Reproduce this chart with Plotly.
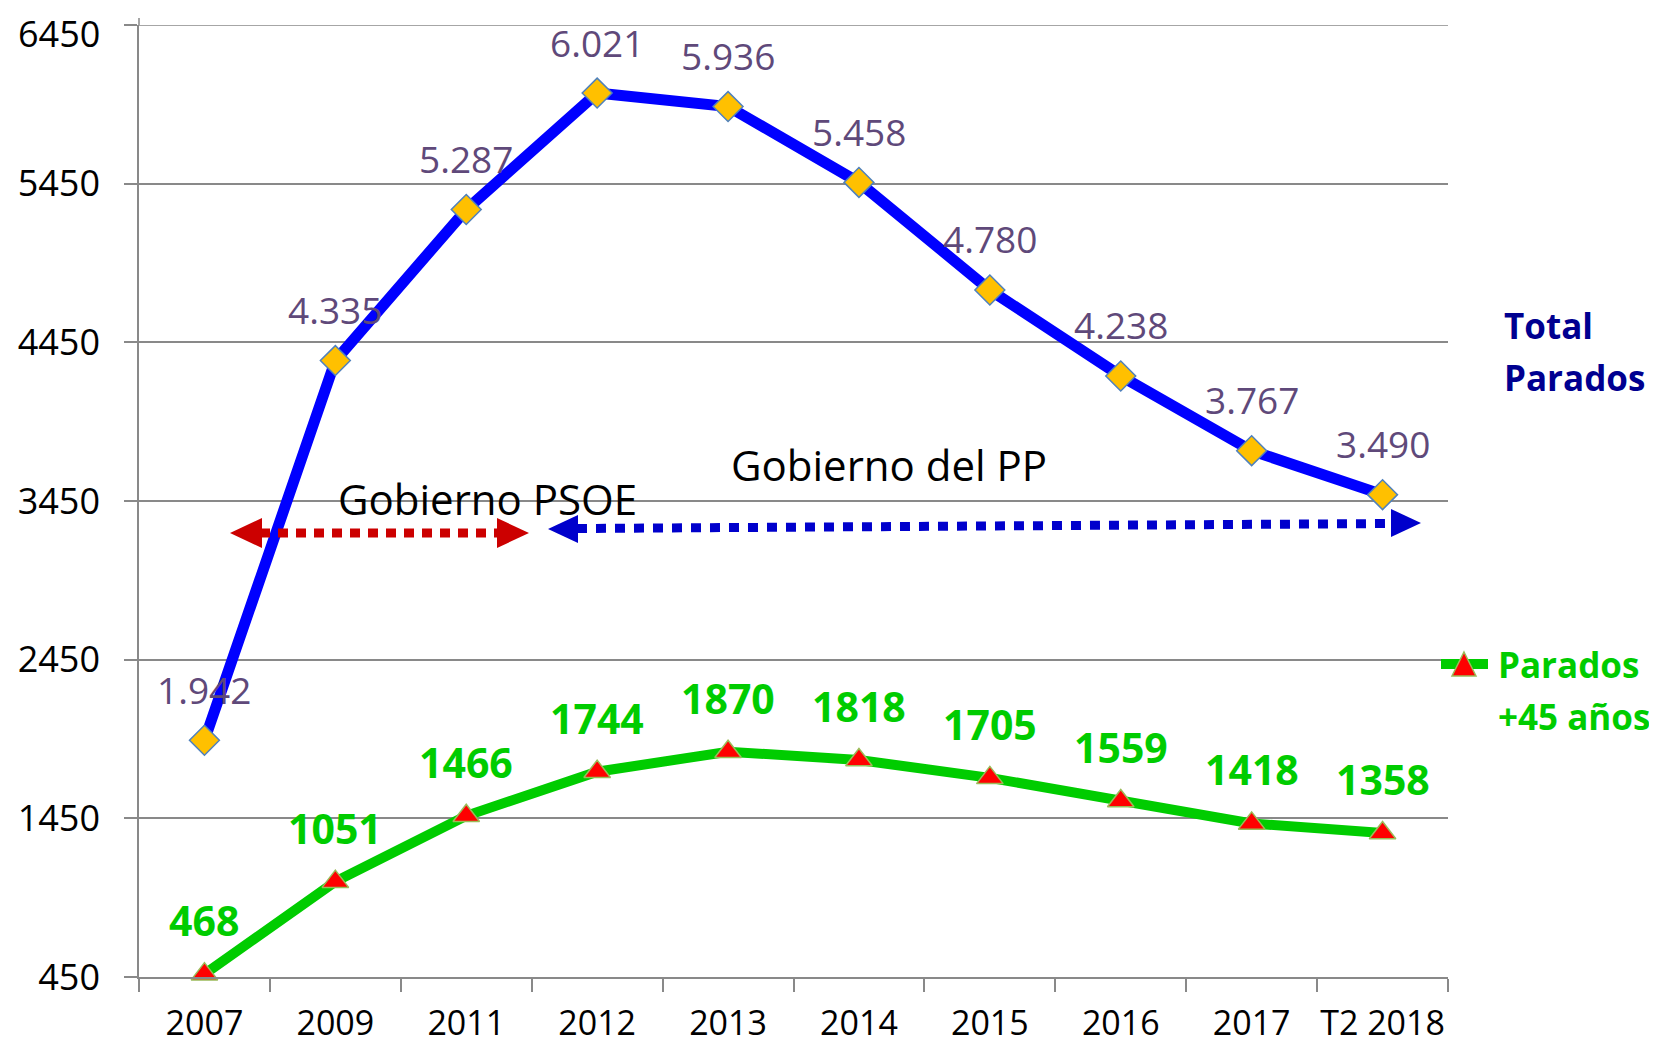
import plotly.graph_objects as go

# ---- data ----
categories = ["2007", "2009", "2011", "2012", "2013", "2014", "2015", "2016", "2017", "T2 2018"]
total_parados = [1942, 4335, 5287, 6021, 5936, 5458, 4780, 4238, 3767, 3490]
parados_45 = [468, 1051, 1466, 1744, 1870, 1818, 1705, 1559, 1418, 1358]
y_ticks = [450, 1450, 2450, 3450, 4450, 5450, 6450]

OFF = 8  # page body margin
W, H = 1657 - OFF, 1050 - OFF
# plot area in screen pixel coordinates
L, R, T, B = 139, 1448, 25, 977
FONT = "Open Sans"
GRID = "#898989"


def px(x):
    return (x - L) / (R - L)


def py(y):
    return 1 - (y - T) / (B - T)


fig = go.Figure()

fig.add_trace(go.Scatter(
    x=categories, y=total_parados, mode="lines+markers", name="Total Parados",
    line=dict(color="#0000FF", width=11),
    marker=dict(symbol="diamond", size=23, color="#FFC000",
                line=dict(color="#4F81BD", width=1.5)),
    showlegend=False, cliponaxis=False,
))
fig.add_trace(go.Scatter(
    x=categories, y=parados_45, mode="lines+markers", name="Parados +45 años",
    line=dict(color="#00CC00", width=10),
    marker=dict(symbol="triangle-up", size=23, color="#FF0000",
                line=dict(color="#9BBB59", width=1.5)),
    showlegend=False, cliponaxis=False,
))

annotations = []
for i, v in enumerate(total_parados):
    annotations.append(dict(
        x=i, y=v, xref="x", yref="y", text=f"{v:,}".replace(",", "."),
        showarrow=False, yshift=51, xanchor="center", yanchor="middle",
        font=dict(family=FONT, size=37, color="#5F497A")))
for i, v in enumerate(parados_45):
    annotations.append(dict(
        x=i, y=v, xref="x", yref="y", text=f"<b>{v}</b>",
        showarrow=False, yshift=54, xanchor="center", yanchor="middle",
        font=dict(family=FONT, size=41, color="#00CC00")))

# top y tick label kept inside the page
annotations.append(dict(x=px(101), y=py(OFF), xref="paper", yref="paper",
                        text=str(y_ticks[-1]), showarrow=False,
                        xanchor="right", yanchor="top", borderpad=0,
                        font=dict(family=FONT, size=36, color="#000000")))

# period labels
annotations.append(dict(x=px(889), y=py(464), xref="paper", yref="paper",
                        text="Gobierno del PP", showarrow=False,
                        xanchor="center", yanchor="middle",
                        font=dict(family=FONT, size=42, color="#000000")))
annotations.append(dict(x=px(487), y=py(498), xref="paper", yref="paper",
                        text="Gobierno PSOE", showarrow=False,
                        xanchor="center", yanchor="middle",
                        font=dict(family=FONT, size=42, color="#000000")))

# legend-like labels
for txt, yy, col, xx in [("Total", 325, "#000090", 1502), ("Parados", 377, "#000090", 1502),
                         ("Parados", 664, "#00CC00", 1496), ("+45 años", 716, "#00CC00", 1496)]:
    annotations.append(dict(x=px(xx), y=py(yy), xref="paper", yref="paper",
                            text=f"<b>{txt}</b>", showarrow=False,
                            xanchor="left", yanchor="middle", align="left",
                            font=dict(family=FONT, size=35, color=col)))

shapes = []
# top gridline (plotly drops gridlines at the range ends) and axis line stub
shapes.append(dict(type="line", xref="paper", yref="y", x0=0, x1=1,
                   y0=y_ticks[-1], y1=y_ticks[-1], line=dict(color=GRID, width=1.5),
                   layer="below"))
shapes.append(dict(type="line", xref="paper", yref="paper", x0=0, x1=0,
                   y0=1, y1=py(18), line=dict(color=GRID, width=1.5)))
# red dotted double arrow
shapes.append(dict(type="line", xref="paper", yref="paper",
                   x0=px(260), x1=px(499), y0=py(533), y1=py(533),
                   line=dict(color="#CC0000", width=9, dash="10px,8px")))
shapes.append(dict(type="path", xref="paper", yref="paper",
                   path=f"M {px(230)},{py(533)} L {px(262)},{py(518)} L {px(262)},{py(548)} Z",
                   fillcolor="#CC0000", line=dict(width=0)))
shapes.append(dict(type="path", xref="paper", yref="paper",
                   path=f"M {px(529)},{py(533)} L {px(497)},{py(518)} L {px(497)},{py(548)} Z",
                   fillcolor="#CC0000", line=dict(width=0)))
# blue dotted double arrow
shapes.append(dict(type="line", xref="paper", yref="paper",
                   x0=px(577), x1=px(1392), y0=py(528.5), y1=py(523.5),
                   line=dict(color="#0000CC", width=9, dash="10px,9px")))
shapes.append(dict(type="path", xref="paper", yref="paper",
                   path=f"M {px(548)},{py(529)} L {px(578)},{py(515)} L {px(578)},{py(543)} Z",
                   fillcolor="#0000CC", line=dict(width=0)))
shapes.append(dict(type="path", xref="paper", yref="paper",
                   path=f"M {px(1421)},{py(523)} L {px(1391)},{py(509)} L {px(1391)},{py(537)} Z",
                   fillcolor="#0000CC", line=dict(width=0)))
# green legend key
shapes.append(dict(type="line", xref="paper", yref="paper",
                   x0=px(1441), x1=px(1488), y0=py(664), y1=py(664),
                   line=dict(color="#00CC00", width=10)))
shapes.append(dict(type="path", xref="paper", yref="paper",
                   path=f"M {px(1464)},{py(652)} L {px(1476)},{py(676)} L {px(1452)},{py(676)} Z",
                   fillcolor="#FF0000", line=dict(color="#9BBB59", width=1.5)))

fig.update_layout(
    width=W, height=H,
    margin=dict(l=L - OFF, r=W - (R - OFF), t=T - OFF, b=H - (B - OFF), pad=0),
    paper_bgcolor="white", plot_bgcolor="white",
    font=dict(family=FONT, color="#000000"),
    showlegend=False,
    annotations=annotations, shapes=shapes,
    xaxis=dict(
        type="category", range=[-0.5, len(categories) - 0.5],
        showgrid=False, showline=True, linecolor=GRID, linewidth=1.5,
        ticks="outside", ticklen=13, tickcolor=GRID, tickwidth=1.5,
        tickson="boundaries", ticklabelstandoff=15, tickangle=0, automargin=False,
        ticklabeloverflow="allow",
        tickfont=dict(family=FONT, size=34, color="#000000"),
    ),
    yaxis=dict(
        range=[450, 6450], tickvals=y_ticks,
        ticktext=[str(v) for v in y_ticks[:-1]] + [""],
        showgrid=True, gridcolor=GRID, gridwidth=1.5,
        showline=True, linecolor=GRID, linewidth=1.5,
        ticks="outside", ticklen=13, tickcolor=GRID, tickwidth=1.5,
        zeroline=False, ticklabelstandoff=17, automargin=False,
        ticklabeloverflow="allow",
        tickfont=dict(family=FONT, size=36, color="#000000"),
    ),
)

fig.write_html("out.html")
